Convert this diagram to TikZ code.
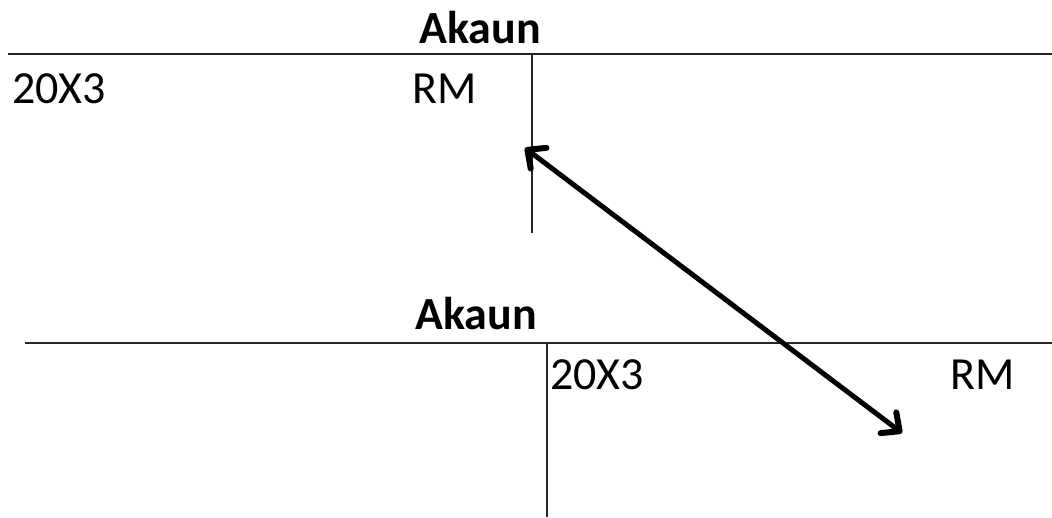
\documentclass[tikz,border=0pt]{standalone}
\usepackage{fontspec}
\setmainfont{Carlito}
\usetikzlibrary{arrows.meta}
\begin{document}
\begin{tikzpicture}[x=1pt,y=-1pt,
  txt/.style={anchor=base west,inner sep=0pt,font=\fontsize{46}{50}\selectfont},
  ttl/.style={anchor=base,inner sep=0pt,font=\fontsize{46}{50}\selectfont\bfseries},
  rule/.style={line width=1.6pt,draw=black!85},
  barb/.tip={Straight Barb[length=14pt,width=26pt,line width=6pt,line cap=round,line join=round]},
  link/.style={line width=5pt,barb-barb}]
\useasboundingbox (0,0) rectangle (1052,517);
% top account
\node[ttl] (t1) at (480,43) {Akaun};
\coordinate (h1l) at (8,54);
\coordinate (h1r) at (1052,54);
\coordinate (v1t) at (532,54);
\coordinate (v1b) at (532,233);
\draw[rule] (h1l) -- (h1r);
\draw[rule] (v1t) -- (v1b);
\node[txt] (y1) at (12,103) {20X3};
\node[txt] (r1) at (412,103) {RM};
% bottom account
\node[ttl] (t2) at (476,329) {Akaun};
\coordinate (h2l) at (25,343);
\coordinate (h2r) at (1052,343);
\coordinate (v2t) at (547,343);
\coordinate (v2b) at (547,517);
\draw[rule] (h2l) -- (h2r);
\draw[rule] (v2t) -- (v2b);
\node[txt] (y2) at (550,389) {20X3};
\node[txt] (r2) at (950,389) {RM};
% arrow
\coordinate (a1) at (525,148);
\coordinate (a2) at (902,433);
\draw[link] (a1) -- (a2);
\end{tikzpicture}
\end{document}
